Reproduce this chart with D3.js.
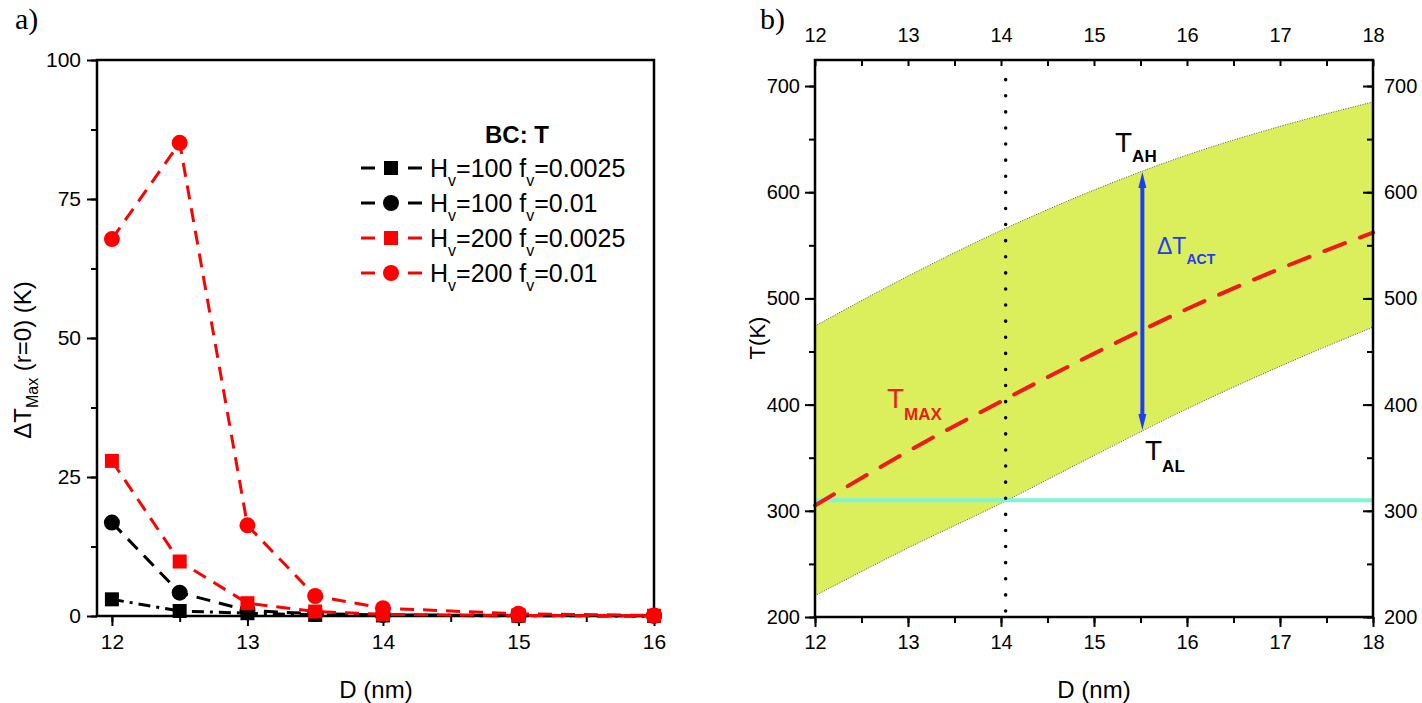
<!DOCTYPE html>
<html>
<head>
<meta charset="utf-8">
<script src="https://cdn.jsdelivr.net/npm/d3@7"></script>
<style>
  body { margin: 0; background: #fff; }
  svg { display: block; font-family: "Liberation Sans", Arial, sans-serif; }
</style>
</head>
<body>
<svg id="chart" width="1422" height="703"></svg>
<script>
// panel a) data
var dA = [12, 12.5, 13, 13.5, 14, 15, 16];
var h100f0025 = [3.0, 0.9, 0.5, 0.2, 0.1, 0.05, 0.0];
var h100f001  = [16.8, 4.2, 1.0, 0.4, 0.2, 0.1, 0.05];
var h200f0025 = [27.9, 9.8, 2.3, 0.8, 0.3, 0.1, 0.05];
var h200f001  = [67.8, 85.1, 16.3, 3.6, 1.4, 0.4, 0.1];
var ticksA_x = [12, 13, 14, 15, 16];
var ticksA_y = [0, 25, 50, 75, 100];

// panel b) data
var dB = [12, 13, 14, 15, 16, 17, 18];
var tAH  = [474, 521, 564, 602, 635, 662, 685];
var tAL  = [220, 265, 307, 352, 396, 436, 473];
var tMax = [305, 356, 403, 448, 490, 528, 562];
var tAmb = 310;
var dCrit = 14.05;
var dArrow = 15.52, arrowLow = 376, arrowHigh = 619;
var ticksB_x = [12, 13, 14, 15, 16, 17, 18];
var ticksB_y = [200, 300, 400, 500, 600, 700];

var svg = d3.select('#chart');

// ---------- panel a ----------
var xA = d3.scaleLinear().domain([11.89, 16]).range([97, 654]);
var yA = d3.scaleLinear().domain([0, 100]).range([616, 60]);
var gA = svg.append('g');

function minorTicks(lo, hi, step){
  var out = [];
  for (var v = lo; v <= hi + 1e-9; v += step) out.push(+v.toFixed(3));
  return out;
}

// minor ticks
gA.append('g').attr('transform', 'translate(0,616)')
  .call(d3.axisBottom(xA).tickValues(minorTicks(12, 16, 0.5)).tickSize(6).tickFormat(''));
gA.append('g').attr('transform', 'translate(97,0)')
  .call(d3.axisLeft(yA).tickValues(minorTicks(0, 100, 12.5)).tickSize(6).tickFormat(''));
// major ticks
gA.append('g').attr('class', 'axA').attr('transform', 'translate(0,616)')
  .call(d3.axisBottom(xA).tickValues(ticksA_x).tickSize(10).tickPadding(8).tickFormat(d3.format('d')));
gA.append('g').attr('class', 'axA').attr('transform', 'translate(97,0)')
  .call(d3.axisLeft(yA).tickValues(ticksA_y).tickSize(10).tickPadding(6).tickFormat(d3.format('d')));

gA.append('rect').attr('x', 97).attr('y', 60).attr('width', 557).attr('height', 556)
  .attr('fill', 'none').attr('stroke', '#000').attr('stroke-width', 2.5);

var seriesA = [
  {vals: h100f0025, color: '#000', shape: 'square', dash: '12,6,3,6', name: ['=100 f', '=0.0025']},
  {vals: h100f001,  color: '#000', shape: 'circle', dash: '14,9', name: ['=100 f', '=0.01']},
  {vals: h200f0025, color: '#f00', shape: 'square', dash: '14,9', name: ['=200 f', '=0.0025']},
  {vals: h200f001,  color: '#f00', shape: 'circle', dash: '14,9', name: ['=200 f', '=0.01']}
];

var lineA = d3.line().x(function(d){ return xA(d[0]); }).y(function(d){ return yA(d[1]); });

function drawMarker(g, shape, cx, cy, color){
  if (shape == 'square') {
    g.append('rect').attr('x', cx - 7).attr('y', cy - 7).attr('width', 14).attr('height', 14).attr('fill', color);
  } else {
    g.append('circle').attr('cx', cx).attr('cy', cy).attr('r', 8).attr('fill', color);
  }
}

seriesA.forEach(function(s){
  var pts = dA.map(function(d, i){ return [d, s.vals[i]]; });
  gA.append('path').attr('d', lineA(pts)).attr('fill', 'none')
    .attr('stroke', s.color).attr('stroke-width', 3).attr('stroke-dasharray', s.dash);
  pts.forEach(function(p){ drawMarker(gA, s.shape, xA(p[0]), yA(p[1]), s.color); });
});

// legend
gA.append('text').attr('x', 517).attr('y', 143).attr('text-anchor', 'middle')
  .attr('font-size', 24).attr('font-weight', 'bold').text('BC: T');
seriesA.forEach(function(s, i){
  var yy = 168 + i * 35;
  [[361, 375], [408, 422]].forEach(function(seg){
    gA.append('line').attr('x1', seg[0]).attr('x2', seg[1]).attr('y1', yy).attr('y2', yy)
      .attr('stroke', s.color).attr('stroke-width', 3);
  });
  drawMarker(gA, s.shape, 391, yy, s.color);
  var t = gA.append('text').attr('x', 430).attr('y', yy + 9).attr('font-size', 25);
  t.append('tspan').text('H');
  t.append('tspan').attr('font-size', 16).attr('dy', 9).text('v');
  t.append('tspan').attr('dy', -9).text(s.name[0]);
  t.append('tspan').attr('font-size', 16).attr('dy', 9).text('v');
  t.append('tspan').attr('dy', -9).text(s.name[1]);
});

// labels
svg.append('text').attr('x', 15).attr('y', 29).attr('font-family', '"Liberation Serif", serif')
  .attr('font-size', 30).text('a)');
svg.append('text').attr('x', 376).attr('y', 698).attr('text-anchor', 'middle')
  .attr('font-size', 24).text('D (nm)');
var yl = svg.append('text').attr('transform', 'translate(31,360) rotate(-90)')
  .attr('text-anchor', 'middle').attr('font-size', 24);
yl.append('tspan').text('ΔT');
yl.append('tspan').attr('font-size', 16).attr('dy', 7).text('Max');
yl.append('tspan').attr('dy', -7).text(' (r=0) (K)');

// ---------- panel b ----------
var xB = d3.scaleLinear().domain([12, 18]).range([815, 1373]);
var yB = d3.scaleLinear().domain([200, 724.5]).range([617, 60]);
var gB = svg.append('g');

var band = d3.area().curve(d3.curveMonotoneX)
  .x(function(d){ return xB(d[0]); })
  .y0(function(d){ return yB(d[1]); })
  .y1(function(d){ return yB(d[2]); });
var bandPts = dB.map(function(d, i){ return [d, tAL[i], tAH[i]]; });
gB.append('path').attr('d', band(bandPts)).attr('fill', '#daef5b');

var lineB = d3.line().curve(d3.curveMonotoneX)
  .x(function(d){ return xB(d[0]); }).y(function(d){ return yB(d[1]); });
[tAH, tAL].forEach(function(arr){
  gB.append('path').attr('d', lineB(dB.map(function(d, i){ return [d, arr[i]]; })))
    .attr('fill', 'none').attr('stroke', '#555').attr('stroke-width', 1).attr('stroke-dasharray', '1,1.5');
});

// ambient line
gB.append('line').attr('x1', xB(12)).attr('x2', xB(18)).attr('y1', yB(tAmb)).attr('y2', yB(tAmb))
  .attr('stroke', '#7ef5d8').attr('stroke-width', 4);

// T max dashed
gB.append('path').attr('d', lineB(dB.map(function(d, i){ return [d, tMax[i]]; })))
  .attr('fill', 'none').attr('stroke', '#f01a1a').attr('stroke-width', 4)
  .attr('stroke-dasharray', '22,16').attr('stroke-linecap', 'round');

// critical D dotted line
gB.append('line').attr('x1', xB(dCrit)).attr('x2', xB(dCrit)).attr('y1', yB(200) - 6).attr('y2', 68)
  .attr('stroke', '#000').attr('stroke-width', 3.5).attr('stroke-dasharray', '0.1,16')
  .attr('stroke-linecap', 'round');

// arrow
var ax = xB(dArrow);
gB.append('line').attr('x1', ax).attr('x2', ax).attr('y1', yB(arrowLow) - 12).attr('y2', yB(arrowHigh) + 12)
  .attr('stroke', '#1f3df5').attr('stroke-width', 4);
gB.append('path').attr('d', 'M' + ax + ',' + yB(arrowHigh) + ' l-4,16 l8,0 z').attr('fill', '#1f3df5');
gB.append('path').attr('d', 'M' + ax + ',' + yB(arrowLow) + ' l-4,-16 l8,0 z').attr('fill', '#1f3df5');

// axes
gB.append('g').attr('transform', 'translate(0,617)')
  .call(d3.axisBottom(xB).tickValues(minorTicks(12, 18, 0.5)).tickSize(6).tickFormat(''));
gB.append('g').attr('class', 'axB').attr('transform', 'translate(0,617)')
  .call(d3.axisBottom(xB).tickValues(ticksB_x).tickSize(10).tickPadding(8).tickFormat(d3.format('d')));
gB.append('g').attr('transform', 'translate(0,60)')
  .call(d3.axisBottom(xB).tickValues(minorTicks(12, 18, 0.5)).tickSize(6).tickFormat(''));
gB.append('g').attr('class', 'axB').attr('transform', 'translate(0,60)')
  .call(d3.axisTop(xB).tickValues(ticksB_x).tickSize(0).tickPadding(18).tickFormat(d3.format('d')));
gB.append('g').attr('transform', 'translate(815,0)')
  .call(d3.axisLeft(yB).tickValues(minorTicks(200, 700, 50)).tickSize(6).tickFormat(''));
gB.append('g').attr('class', 'axB').attr('transform', 'translate(815,0)')
  .call(d3.axisLeft(yB).tickValues(ticksB_y).tickSize(10).tickPadding(5).tickFormat(d3.format('d')));
gB.append('g').attr('transform', 'translate(1373,0)')
  .call(d3.axisLeft(yB).tickValues(minorTicks(200, 700, 50)).tickSize(6).tickFormat(''));
gB.append('g').attr('transform', 'translate(1373,0)')
  .call(d3.axisLeft(yB).tickValues(ticksB_y).tickSize(10).tickFormat(''));
gB.append('g').attr('class', 'axB').attr('transform', 'translate(1373,0)')
  .call(d3.axisRight(yB).tickValues(ticksB_y).tickSize(0).tickPadding(11).tickFormat(d3.format('d')));

gB.append('rect').attr('x', 815).attr('y', 60).attr('width', 558).attr('height', 557)
  .attr('fill', 'none').attr('stroke', '#000').attr('stroke-width', 2.5);

// annotations
function subLabel(x, y, main, sub, color, size, subSize, dy, mainWeight){
  var t = gB.append('text').attr('x', x).attr('y', y).attr('fill', color)
    .attr('font-family', 'Arial, "Liberation Sans", sans-serif');
  t.append('tspan').attr('font-size', size).attr('font-weight', mainWeight).text(main);
  t.append('tspan').attr('font-size', subSize).attr('font-weight', 'bold').attr('dy', dy).text(sub);
  return t;
}
subLabel(1115, 152, 'T', 'AH', '#000', 28, 17, 10, 'normal');
subLabel(1145, 460, 'T', 'AL', '#000', 28, 17, 12, 'normal');
subLabel(1157, 254, 'ΔT', 'ACT', '#1f3df5', 23, 14, 10, 'normal');
subLabel(887, 408, 'T', 'MAX', '#ee1c1c', 28, 17, 12, 'normal');

svg.append('text').attr('x', 760).attr('y', 29).attr('font-family', '"Liberation Serif", serif')
  .attr('font-size', 30).text('b)');
svg.append('text').attr('x', 1094).attr('y', 698).attr('text-anchor', 'middle')
  .attr('font-size', 24).text('D (nm)');
svg.append('text').attr('transform', 'translate(765,338) rotate(-90)')
  .attr('text-anchor', 'middle').attr('font-size', 22).text('T(K)');

// common axis styling
svg.selectAll('.tick text').attr('fill', '#000')
  .attr('font-family', '"Liberation Sans", Arial, sans-serif');
svg.selectAll('.axA .tick text').attr('font-size', 21);
svg.selectAll('.axB .tick text').attr('font-size', 20);
svg.selectAll('.tick line').attr('stroke', '#000').attr('stroke-width', 2);
svg.selectAll('.domain').remove();
</script>
</body>
</html>
